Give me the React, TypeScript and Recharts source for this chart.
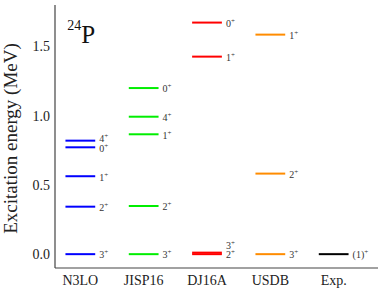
import React from "react";
import { ComposedChart, Line, Scatter, XAxis, YAxis, ReferenceDot } from "recharts";

// ---- data ----
const models = ["N3LO", "JISP16", "DJ16A", "USDB", "Exp."];
const modelColors = ["#0000ff", "#00ee00", "#ff0000", "#ff8c00", "#000000"];

const n3loEnergies = [0.0, 0.343, 0.563, 0.772, 0.82];
const n3loSpins = ["3", "2", "1", "0", "4"];

const jisp16Energies = [0.0, 0.348, 0.866, 0.993, 1.2];
const jisp16Spins = ["3", "2", "1", "4", "0"];

const dj16aEnergies = [0.0, 0.011, 1.427, 1.673];
const dj16aSpins = ["2", "3", "1", "0"];

const usdbEnergies = [0.0, 0.582, 1.586];
const usdbSpins = ["3", "2", "1"];

const expEnergies = [0.0];
const expSpins = ["(1)"];

const yTicks = [0.0, 0.5, 1.0, 1.5];
const yDomain: [number, number] = [-0.1, 1.8];
const xDomain: [number, number] = [-0.4, 4.7];
const nucleusMass = "24";
const nucleusSymbol = "P";

// ---- derived ----
const FONT = "Liberation Serif, Times New Roman, DejaVu Serif, serif";
const FRAME = "#444";
const HALF = 0.235;
const LABEL_GAP = 0.07;

const energySets = [n3loEnergies, jisp16Energies, dj16aEnergies, usdbEnergies, expEnergies];
const spinSets = [n3loSpins, jisp16Spins, dj16aSpins, usdbSpins, expSpins];

type Level = { m: number; e: number; spin: string; labelE: number; color: string };
const levels: Level[] = [];
energySets.forEach((es, m) => {
  const items = es.map((e, i) => ({ e, spin: spinSets[m][i] })).sort((a, b) => a.e - b.e);
  let prev = -Infinity;
  items.forEach((it) => {
    const labelE = Math.max(it.e, prev + LABEL_GAP);
    prev = labelE;
    levels.push({ m, e: it.e, spin: it.spin, labelE, color: modelColors[m] });
  });
});

const labelPoints = levels.map((lv) => ({ x: lv.m + HALF, y: lv.labelE, spin: lv.spin }));

const minorTicks: number[] = [];
for (let k = -2; k <= 36; k++) minorTicks.push(Math.round(k * 5) / 100);

const SpinLabel = (props: any) => {
  const { cx, cy, payload } = props;
  if (cx == null || cy == null) return <g />;
  return (
    <text x={cx + 4} y={cy + 4.3} fontSize={10} fill="#333" style={{ fontFamily: FONT }}>
      {payload.spin}
      <tspan fontSize={7} dy={-4}>+</tspan>
    </text>
  );
};

const NucleusLabel = (props: any) => {
  const { cx, cy } = props;
  return (
    <text x={cx} y={cy} fill="#111" style={{ fontFamily: FONT }}>
      <tspan fontSize={14} dy={-13}>{nucleusMass}</tspan>
      <tspan fontSize={25} dy={13}>{nucleusSymbol}</tspan>
    </text>
  );
};

const YLabel = (props: any) => {
  const vb = props.viewBox || { x: 0, y: 5, width: 55, height: 263 };
  const x = 16.5;
  const y = vb.y + vb.height / 2 + 2;
  return (
    <text
      x={x}
      y={y}
      transform={`rotate(-90, ${x}, ${y})`}
      textAnchor="middle"
      fontSize={19}
      fill="#222"
      style={{ fontFamily: FONT }}
    >
      Excitation energy (MeV)
    </text>
  );
};

const tickStyle = { fontSize: 14, fill: "#222", style: { fontFamily: FONT } };
const empty = () => "";

export default function App() {
  return (
    <div style={{ position: "absolute", left: 0, top: 0, fontFamily: FONT }}>
      <ComposedChart width={382} height={300} margin={{ top: 5, right: 4, bottom: 0, left: 0 }}>
        <XAxis
          xAxisId="x"
          dataKey="x"
          type="number"
          domain={xDomain}
          allowDataOverflow
          ticks={[0, 1, 2, 3, 4]}
          interval={0}
          tickFormatter={(v: number) => models[v] ?? ""}
          tickLine={false}
          tickSize={0}
          tickMargin={7}
          height={32}
          axisLine={{ stroke: FRAME, strokeWidth: 1.2 }}
          tick={tickStyle}
        />
        <XAxis
          xAxisId="top"
          orientation="top"
          type="number"
          domain={xDomain}
          allowDataOverflow
          height={0}
          tick={false}
          tickLine={false}
          axisLine={{ stroke: FRAME, strokeWidth: 1.2 }}
        />
        <YAxis
          yAxisId="y"
          type="number"
          domain={yDomain}
          allowDataOverflow
          ticks={yTicks}
          interval={0}
          tickFormatter={(v: number) => v.toFixed(1)}
          width={55}
          tickLine={false}
          tickSize={0}
          tickMargin={5}
          axisLine={{ stroke: FRAME, strokeWidth: 1.2 }}
          tick={tickStyle}
          label={{ content: YLabel }}
        />
        <YAxis
          yAxisId="minL"
          type="number"
          domain={yDomain}
          allowDataOverflow
          ticks={minorTicks}
          interval={0}
          mirror
          width={0}
          tickSize={2.5}
          tickLine={{ stroke: "#777", strokeWidth: 0.8 }}
          axisLine={false}
          tickFormatter={empty}
        />
        <YAxis
          yAxisId="majL"
          type="number"
          domain={yDomain}
          allowDataOverflow
          ticks={yTicks}
          interval={0}
          mirror
          width={0}
          tickSize={5}
          tickLine={{ stroke: "#666", strokeWidth: 0.9 }}
          axisLine={false}
          tickFormatter={empty}
        />
        <YAxis
          yAxisId="minR"
          orientation="right"
          type="number"
          domain={yDomain}
          allowDataOverflow
          ticks={minorTicks}
          interval={0}
          mirror
          width={0}
          tickSize={2.5}
          tickLine={{ stroke: "#777", strokeWidth: 0.8 }}
          axisLine={{ stroke: FRAME, strokeWidth: 1.2 }}
          tickFormatter={empty}
        />
        <YAxis
          yAxisId="majR"
          orientation="right"
          type="number"
          domain={yDomain}
          allowDataOverflow
          ticks={yTicks}
          interval={0}
          mirror
          width={0}
          tickSize={5}
          tickLine={{ stroke: "#666", strokeWidth: 0.9 }}
          axisLine={false}
          tickFormatter={empty}
        />
        {levels.map((lv, k) => (
          <Line
            key={`lv-${k}`}
            xAxisId="x"
            yAxisId="y"
            data={[
              { x: lv.m - HALF, y: lv.e },
              { x: lv.m + HALF, y: lv.e },
            ]}
            dataKey="y"
            stroke={lv.color}
            strokeWidth={2}
            dot={false}
            activeDot={false}
            isAnimationActive={false}
          />
        ))}
        <Scatter
          xAxisId="x"
          yAxisId="y"
          data={labelPoints}
          dataKey="y"
          shape={SpinLabel}
          isAnimationActive={false}
        />
        <ReferenceDot
          xAxisId="x"
          yAxisId="y"
          x={-0.206}
          y={1.526}
          r={0}
          shape={NucleusLabel}
        />
      </ComposedChart>
    </div>
  );
}
